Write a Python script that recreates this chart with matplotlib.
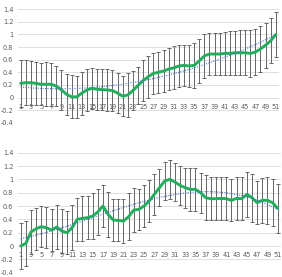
import numpy as np
import matplotlib
matplotlib.use("Agg")
import matplotlib.pyplot as plt

# dados (categorias 1..51)
cats = np.arange(1, 52)
tick_labels = [str(c) for c in range(1, 52, 2)]

top_mean = [0.225, 0.235, 0.235, 0.225, 0.21, 0.21, 0.21, 0.18, 0.12, 0.05,
            0.01, 0.01, 0.07, 0.12, 0.145, 0.13, 0.125, 0.12, 0.11, 0.07,
            0.02, 0.04, 0.11, 0.19, 0.27, 0.33, 0.38, 0.40, 0.42, 0.45,
            0.47, 0.50, 0.51, 0.50, 0.51, 0.58, 0.66, 0.69, 0.69, 0.69,
            0.70, 0.70, 0.71, 0.71, 0.71, 0.70, 0.72, 0.77, 0.83, 0.90, 1.0]
top_err = [0.37, 0.36, 0.35, 0.34, 0.33, 0.35, 0.34, 0.32, 0.32, 0.33,
           0.34, 0.33, 0.34, 0.33, 0.33, 0.33, 0.33, 0.33, 0.32, 0.32,
           0.32, 0.35, 0.31, 0.30, 0.32, 0.33, 0.33, 0.33, 0.33, 0.33,
           0.34, 0.33, 0.32, 0.33, 0.36, 0.35, 0.35, 0.34, 0.34, 0.34,
           0.345, 0.35, 0.35, 0.36, 0.36, 0.37, 0.37, 0.36, 0.36, 0.36, 0.35]

bot_mean = [0.0, 0.04, 0.21, 0.26, 0.29, 0.275, 0.24, 0.285, 0.225, 0.2,
            0.275, 0.4, 0.415, 0.425, 0.45, 0.51, 0.6, 0.475, 0.39, 0.385,
            0.375, 0.44, 0.54, 0.55, 0.6, 0.675, 0.775, 0.875, 0.975, 1.0,
            0.96, 0.91, 0.875, 0.85, 0.85, 0.8, 0.725, 0.71, 0.71, 0.715,
            0.71, 0.685, 0.715, 0.71, 0.775, 0.725, 0.65, 0.685, 0.685, 0.65, 0.565]
bot_err = [0.35, 0.34, 0.33, 0.315, 0.31, 0.31, 0.32, 0.33, 0.335, 0.325,
           0.34, 0.325, 0.335, 0.325, 0.35, 0.35, 0.31, 0.335, 0.31, 0.315,
           0.325, 0.35, 0.335, 0.31, 0.31, 0.32, 0.31, 0.28, 0.28, 0.29,
           0.29, 0.29, 0.30, 0.325, 0.325, 0.30, 0.34, 0.325, 0.325, 0.32,
           0.325, 0.315, 0.32, 0.325, 0.335, 0.36, 0.325, 0.34, 0.35, 0.35, 0.37]

W, H = 282, 277
fig = plt.figure(figsize=(W / 100, H / 100), dpi=100)

# posicoes em pixels: (esquerda, direita, topo, base)
boxes = [(17.6, 278.8, 9.3, 122.7), (17.6, 280.8, 152.7, 272.7)]
series = [(top_mean, top_err, 2), (bot_mean, bot_err, 3)]

for (l, r, t, b), (mean, err, ordem) in zip(boxes, series):
    ax = fig.add_axes([l / W, 1 - b / H, (r - l) / W, (b - t) / H])
    mean = np.array(mean)
    ax.errorbar(cats, mean, yerr=err, fmt='none', ecolor='#666666',
                elinewidth=0.7, capsize=1.5, capthick=0.7, zorder=2)
    ax.plot(cats, mean, color='#22ad5c', lw=2.1, solid_joinstyle='round',
            solid_capstyle='round', zorder=3)
    # linha de tendencia polinomial
    coef = np.polyfit(cats, mean, ordem)
    ax.plot(cats, np.polyval(coef, cats), color='#4a72c4', lw=0.8,
            ls=(0, (1, 1.2)), zorder=4)

    ax.set_xlim(0.4, 51.6)
    ax.set_ylim(-0.4, 1.4)
    ax.set_yticks(np.arange(-0.4, 1.41, 0.2))
    ax.set_yticklabels(['-0.4', '-0.2', '0', '0.2', '0.4', '0.6', '0.8',
                        '1', '1.2', '1.4'])
    ax.set_xticks(range(1, 52, 2))
    ax.set_xticklabels(tick_labels)
    ax.grid(axis='y', color='#d9d9d9', lw=0.6)
    ax.set_axisbelow(True)
    for s in ['top', 'right', 'left']:
        ax.spines[s].set_visible(False)
    ax.spines['bottom'].set_position(('data', 0))
    ax.spines['bottom'].set_visible(False)
    ax.tick_params(axis='both', length=0, labelsize=4.7, colors='#595959')
    ax.tick_params(axis='y', pad=3.2)
    ax.tick_params(axis='x', pad=4.5)

fig.savefig('out.png', dpi=100)
